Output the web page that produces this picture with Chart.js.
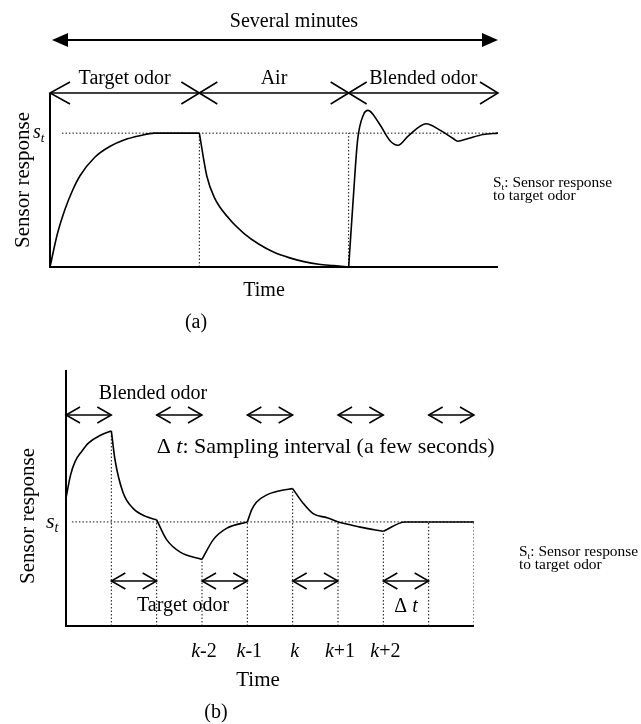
<!DOCTYPE html>
<html>
<head>
<meta charset="utf-8">
<script src="https://cdn.jsdelivr.net/npm/chart.js@4/dist/chart.umd.min.js"></script>
<style>
  html, body { margin: 0; padding: 0; background: #fff; }
  #wrapA { position: absolute; left: 0; top: 0; width: 641px; height: 340px; }
  #wrapB { position: absolute; left: 0; top: 340px; width: 641px; height: 384px; }
</style>
</head>
<body>
<div id="wrapA"><canvas id="chartA"></canvas></div>
<div id="wrapB"><canvas id="chartB"></canvas></div>
<script>
// (a) one long run: target odor, then air, then the blended odor
const phaseNames = ['Target odor', 'Air', 'Blended odor'];
const phaseEdges = [0, 10, 20, 30];
const runTime = [0, 0.5, 1, 1.5, 2, 3, 4, 5, 6, 7, 10,
  10.5, 11, 12, 13, 14, 15, 16, 17, 18, 19, 20,
  20.3, 20.6, 21, 21.3, 22, 22.8, 23.3, 24, 25.2, 26, 27, 27.3, 28, 29, 30];
const runResp = [0, 0.25, 0.43, 0.57, 0.68, 0.82, 0.9, 0.95, 0.98, 1.0, 1.0,
  0.68, 0.52, 0.36, 0.25, 0.17, 0.11, 0.07, 0.04, 0.02, 0.01, 0,
  0.5, 0.95, 1.14, 1.17, 1.08, 0.94, 0.91, 0.98, 1.07, 1.03, 0.96, 0.94, 0.96, 0.99, 1.0];
const stLineFromA = 0.8;

// (b) switching every sampling interval, time in units of delta t
const stepTime = [0, 0.1, 0.2, 0.35, 0.5, 0.75, 1,
  1.08, 1.26, 1.48, 1.78, 2,
  2.22, 2.52, 3,
  3.25, 3.55, 4,
  4.1, 4.2, 4.43, 4.72, 5,
  5.23, 5.45, 5.76, 6,
  6.49, 7,
  7.48, 8, 9];
const stepResp = [1.23, 1.45, 1.58, 1.68, 1.76, 1.83, 1.875,
  1.6, 1.28, 1.13, 1.05, 1.02,
  0.83, 0.71, 0.64,
  0.83, 0.94, 1.0,
  1.12, 1.19, 1.26, 1.3, 1.32,
  1.18, 1.08, 1.04, 1.0,
  0.95, 0.91,
  1.0, 1.0, 1.0];
const blendedSlots = [0, 2, 4, 6, 8];
const targetSlots = [1, 3, 5, 7];
const tickValues = [3, 4, 5, 6, 7];
const tickLabels = ['k-2', 'k-1', 'k', 'k+1', 'k+2'];
const stLineFromB = 0.13;

const SERIF = "'Liberation Serif', 'Times New Roman', serif";
const setFont = (ctx, size, italic) => { ctx.font = `${italic ? 'italic ' : ''}${size}px ${SERIF}`; };

// pieces: [text, size, italic, dy]
function drawRun(ctx, pieces, x, y, align) {
  let w = 0;
  pieces.forEach(([t, s, it]) => { setFont(ctx, s, it); w += ctx.measureText(t).width; });
  let cx = align === 'center' ? x - w / 2 : (align === 'right' ? x - w : x);
  ctx.textAlign = 'left';
  ctx.textBaseline = 'alphabetic';
  pieces.forEach(([t, s, it, dy = 0]) => {
    setFont(ctx, s, it);
    ctx.fillText(t, cx, y + dy);
    cx += ctx.measureText(t).width;
  });
}

function openHead(ctx, x, y, dir, len, half) {
  ctx.beginPath();
  ctx.moveTo(x - dir * len, y - half);
  ctx.lineTo(x, y);
  ctx.lineTo(x - dir * len, y + half);
  ctx.stroke();
}

function doubleArrow(ctx, x1, x2, y, len, half) {
  ctx.beginPath(); ctx.moveTo(x1, y); ctx.lineTo(x2, y); ctx.stroke();
  openHead(ctx, x1, y, -1, len, half);
  openHead(ctx, x2, y, 1, len, half);
}

function cross(ctx, x, y, hw, hh) {
  ctx.beginPath();
  ctx.moveTo(x - hw, y - hh); ctx.lineTo(x + hw, y + hh);
  ctx.moveTo(x - hw, y + hh); ctx.lineTo(x + hw, y - hh);
  ctx.stroke();
}

function filledHead(ctx, x, y, dir, len, half) {
  ctx.beginPath();
  ctx.moveTo(x, y);
  ctx.lineTo(x - dir * len, y - half);
  ctx.lineTo(x - dir * len, y + half);
  ctx.closePath();
  ctx.fill();
}

function stNote(ctx, x, y1, y2) {
  ctx.save();
  ctx.translate(x, 0);
  ctx.scale(1.1, 1);
  drawRun(ctx, [['S', 14], ['t', 9, false, 3], [': Sensor response', 14]], 0, y1, 'left');
  drawRun(ctx, [['to target odor', 14]], 0, y2, 'left');
  ctx.restore();
}

function yTitle(ctx, cx, cy) {
  ctx.save();
  ctx.translate(cx, cy);
  ctx.rotate(-Math.PI / 2);
  drawRun(ctx, [['Sensor response', 21]], 0, 7, 'center');
  ctx.restore();
}

const pts = (xs, ys) => xs.map((v, i) => ({ x: v, y: ys[i] }));
const between = (data, lo, hi) => data.filter((p) => p.x >= lo && p.x <= hi);

const curveStyle = {
  borderColor: '#000', borderWidth: 1.6, pointRadius: 0,
  cubicInterpolationMode: 'monotone', fill: false, order: 0,
};
const dotStyle = {
  borderColor: '#111', borderWidth: 1, borderDash: [1.5, 2], pointRadius: 0, fill: false, order: 1,
};

const baseOptions = (padding, xmax, ymax) => ({
  responsive: true,
  maintainAspectRatio: false,
  animation: false,
  events: [],
  layout: { padding },
  plugins: { legend: { display: false }, tooltip: { enabled: false } },
  scales: {
    x: { type: 'linear', min: 0, max: xmax, display: false },
    y: { type: 'linear', min: 0, max: ymax, display: false },
  },
});

/* ---------- (a) ---------- */
const figureA = {
  id: 'figureA',
  afterDatasetsDraw(chart) {
    const { ctx, chartArea: a, scales: { x, y } } = chart;
    ctx.save();
    ctx.strokeStyle = '#000';
    ctx.fillStyle = '#000';

    ctx.lineWidth = 2;
    ctx.beginPath();
    ctx.moveTo(a.left, a.top); ctx.lineTo(a.left, a.bottom); ctx.lineTo(a.right, a.bottom);
    ctx.stroke();

    // whole run span
    const x0 = x.getPixelForValue(phaseEdges[0]) + 2;
    const x3 = x.getPixelForValue(phaseEdges[phaseEdges.length - 1]);
    ctx.beginPath(); ctx.moveTo(x0 + 10, 40); ctx.lineTo(x3 - 10, 40); ctx.stroke();
    filledHead(ctx, x0, 40, -1, 16, 7);
    filledHead(ctx, x3, 40, 1, 16, 7);
    drawRun(ctx, [['Several minutes', 20]], 294, 27, 'center');

    // phase row
    ctx.lineWidth = 1.5;
    const rowY = a.top;
    ctx.beginPath();
    ctx.moveTo(x.getPixelForValue(phaseEdges[0]), rowY);
    ctx.lineTo(x3, rowY);
    ctx.stroke();
    openHead(ctx, x.getPixelForValue(phaseEdges[0]), rowY, -1, 20, 11);
    openHead(ctx, x3, rowY, 1, 18, 11);
    phaseEdges.slice(1, -1).forEach((e) => cross(ctx, x.getPixelForValue(e), rowY, 18, 11));
    phaseNames.forEach((n, i) => {
      const c = (x.getPixelForValue(phaseEdges[i]) + x.getPixelForValue(phaseEdges[i + 1])) / 2;
      drawRun(ctx, [[n, 20]], c, rowY - 9, 'center');
    });

    const st = y.getPixelForValue(1);
    drawRun(ctx, [['s', 20, true], ['t', 13, true, 4]], 33, st + 5, 'left');
    yTitle(ctx, 22, (a.top + a.bottom) / 2);
    drawRun(ctx, [['Time', 20]], 264, a.bottom + 29, 'center');
    drawRun(ctx, [['(a)', 20]], 196, 328, 'center');
    stNote(ctx, 493, 187, 200);
    ctx.restore();
  },
};

const runPts = pts(runTime, runResp);
const datasetsA = phaseNames.map((_, i) => ({
  ...curveStyle, data: between(runPts, phaseEdges[i], phaseEdges[i + 1]),
}));
datasetsA.push({ ...dotStyle, data: [{ x: stLineFromA, y: 1 }, { x: phaseEdges[3], y: 1 }] });
phaseEdges.slice(1, -1).forEach((e) => {
  datasetsA.push({ ...dotStyle, data: [{ x: e, y: 0 }, { x: e, y: 1 }] });
});

new Chart(document.getElementById('chartA'), {
  type: 'line',
  data: { datasets: datasetsA },
  options: baseOptions({ left: 50, right: 143, top: 93, bottom: 73 }, 30, 1.3),
  plugins: [figureA],
});

/* ---------- (b) ---------- */
const figureB = {
  id: 'figureB',
  afterDatasetsDraw(chart) {
    const { ctx, chartArea: a, scales: { x, y } } = chart;
    const px = (v) => x.getPixelForValue(v);
    ctx.save();
    ctx.strokeStyle = '#000';
    ctx.fillStyle = '#000';

    ctx.lineWidth = 2;
    ctx.beginPath();
    ctx.moveTo(a.left, a.top); ctx.lineTo(a.left, a.bottom); ctx.lineTo(a.right, a.bottom);
    ctx.stroke();

    ctx.lineWidth = 1.5;
    blendedSlots.forEach((s) => doubleArrow(ctx, px(s), px(s + 1), a.top + 45, 14, 8));
    targetSlots.forEach((s) => doubleArrow(ctx, px(s), px(s + 1), a.bottom - 45, 14, 8));

    drawRun(ctx, [['Blended odor', 20]], 153, a.top + 29, 'center');
    drawRun(ctx, [['\u0394 ', 22], ['t', 22, true], [': Sampling interval (a few seconds)', 22]], px(2), a.top + 83, 'left');
    drawRun(ctx, [['Target odor', 20]], 183, a.bottom - 15, 'center');
    drawRun(ctx, [['\u0394 ', 20], ['t', 20, true]], (px(7) + px(8)) / 2, a.bottom - 14, 'center');

    const st = y.getPixelForValue(1);
    drawRun(ctx, [['s', 22, true], ['t', 14, true, 4]], 46, st + 6, 'left');
    yTitle(ctx, 27, 176);

    tickValues.forEach((v, i) => {
      const l = tickLabels[i];
      drawRun(ctx, [[l[0], 20, true], [l.slice(1), 20]], px(v) + 2, a.bottom + 31, 'center');
    });
    drawRun(ctx, [['Time', 21]], 258, a.bottom + 60, 'center');
    drawRun(ctx, [['(b)', 20]], 216, a.bottom + 92, 'center');
    stNote(ctx, 519, 216, 229);
    ctx.restore();
  },
};

const stepPts = pts(stepTime, stepResp);
const lastStep = stepTime[stepTime.length - 1];
const datasetsB = [];
for (let i = 0; i < lastStep; i++) {
  datasetsB.push({ ...curveStyle, data: between(stepPts, i, i + 1) });
}
datasetsB.push({ ...dotStyle, data: [{ x: stLineFromB, y: 1 }, { x: lastStep, y: 1 }] });
for (let k = 1; k <= lastStep; k++) {
  const top = stepResp[stepTime.indexOf(k)];
  datasetsB.push({ ...dotStyle, data: [{ x: k, y: 0 }, { x: k, y: top }] });
}

new Chart(document.getElementById('chartB'), {
  type: 'line',
  data: { datasets: datasetsB },
  options: baseOptions({ left: 66, right: 167, top: 30, bottom: 98 }, lastStep, 2.46),
  plugins: [figureB],
});
</script>
</body>
</html>
